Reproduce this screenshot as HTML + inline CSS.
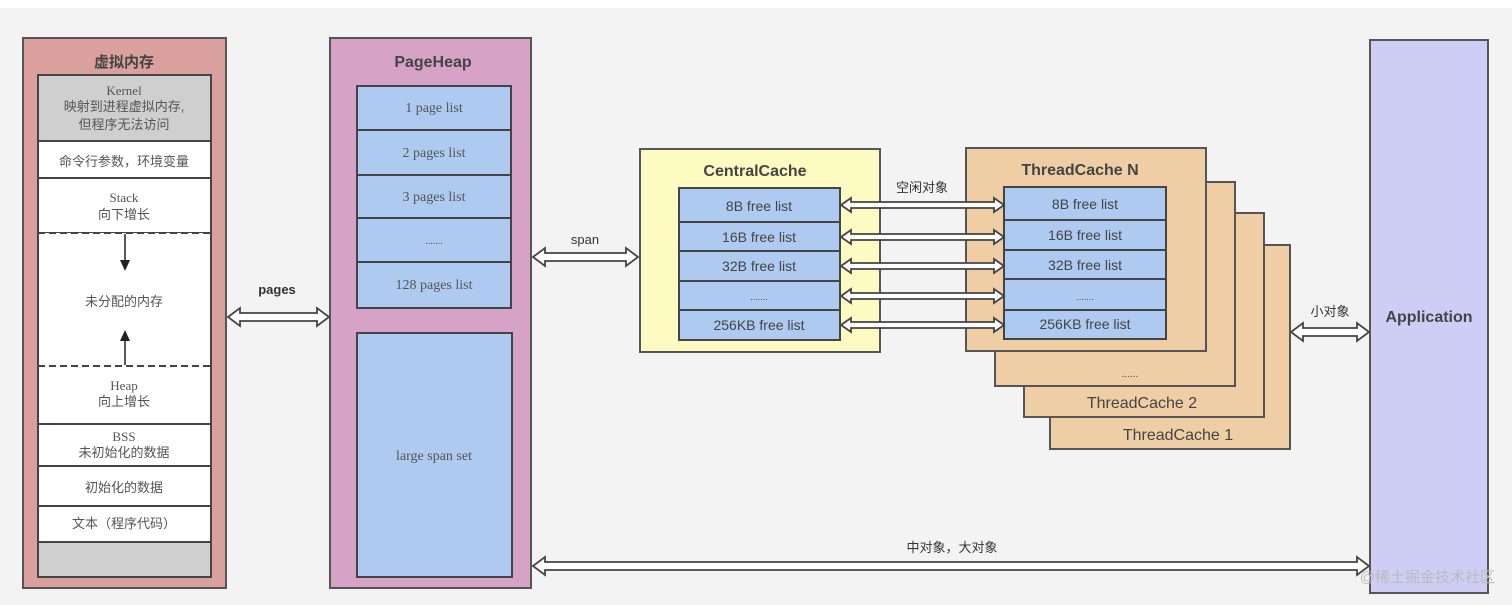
<!DOCTYPE html>
<html><head><meta charset="utf-8"><style>
html,body{margin:0;padding:0;background:#f3f3f3;}
svg{display:block}
.s{font-family:"Liberation Sans","Noto Sans CJK SC",sans-serif;}
.r{font-family:"Liberation Serif","Noto Sans CJK SC",serif;}
</style></head><body>
<svg width="1512" height="605" viewBox="0 0 1512 605" xmlns="http://www.w3.org/2000/svg">
<rect x="0" y="0" width="1512" height="8" fill="#ffffff"/>
<rect x="0" y="8" width="1512" height="597" fill="#f3f3f3"/>

<!-- 虚拟内存 -->
<rect x="23" y="38" width="203" height="550" fill="#d9a09d" stroke="#555" stroke-width="2"/>
<text x="124" y="67" text-anchor="middle" class="s" font-size="15" font-weight="bold" fill="#444">虚拟内存</text>
<g stroke="#444" stroke-width="2">
<rect x="38" y="75" width="173" height="66" fill="#cfcfcf"/>
<rect x="38" y="141" width="173" height="37" fill="#fff"/>
<rect x="38" y="178" width="173" height="55" fill="#fff"/>
<rect x="38" y="233" width="173" height="133" fill="#fff" stroke="none"/>
<line x1="38" y1="233" x2="38" y2="366"/><line x1="211" y1="233" x2="211" y2="366"/>
<rect x="38" y="366" width="173" height="58" fill="#fff" stroke="none"/>
<line x1="38" y1="366" x2="38" y2="424"/><line x1="211" y1="366" x2="211" y2="424"/>
<rect x="38" y="424" width="173" height="42" fill="#fff"/>
<rect x="38" y="466" width="173" height="40" fill="#fff"/>
<rect x="38" y="506" width="173" height="36" fill="#fff"/>
<rect x="38" y="542" width="173" height="35" fill="#cfcfcf"/>
</g>
<line x1="38" y1="233" x2="211" y2="233" stroke="#444" stroke-width="2" stroke-dasharray="7,4"/>
<line x1="38" y1="366" x2="211" y2="366" stroke="#444" stroke-width="2" stroke-dasharray="7,4"/>
<line x1="125" y1="234" x2="125" y2="262" stroke="#222" stroke-width="1.5"/>
<polygon points="120,260 130,260 125,271" fill="#222"/>
<line x1="125" y1="340" x2="125" y2="365" stroke="#222" stroke-width="1.5"/>
<polygon points="120,341 130,341 125,330" fill="#222"/>
<g fill="#555" font-size="13" text-anchor="middle">
<text x="124" y="95" class="r">Kernel</text>
<text x="124" y="111" class="s">映射到进程虚拟内存,</text>
<text x="124" y="129" class="s">但程序无法访问</text>
<text x="124" y="166" class="s">命令行参数，环境变量</text>
<text x="124" y="202" class="r">Stack</text>
<text x="124" y="219" class="s">向下增长</text>
<text x="124" y="306" class="s">未分配的内存</text>
<text x="124" y="390" class="r">Heap</text>
<text x="124" y="406" class="s">向上增长</text>
<text x="124" y="441" class="r">BSS</text>
<text x="124" y="457" class="s">未初始化的数据</text>
<text x="124" y="492" class="s">初始化的数据</text>
<text x="124" y="528" class="s">文本（程序代码）</text>
</g>

<!-- PageHeap -->
<rect x="330" y="38" width="201" height="550" fill="#d6a3c7" stroke="#555" stroke-width="2"/>
<text x="433" y="67" text-anchor="middle" class="s" font-size="16" font-weight="bold" fill="#444">PageHeap</text>
<g stroke="#444" stroke-width="2" fill="#aecaf1">
<rect x="357" y="86" width="154" height="44"/>
<rect x="357" y="130" width="154" height="45"/>
<rect x="357" y="175" width="154" height="43"/>
<rect x="357" y="218" width="154" height="44"/>
<rect x="357" y="262" width="154" height="46"/>
<rect x="357" y="333" width="155" height="244"/>
</g>
<g fill="#555" font-size="14" text-anchor="middle" class="r">
<text x="434" y="112">1 page list</text>
<text x="434" y="157">2 pages list</text>
<text x="434" y="201">3 pages list</text>
<text x="434" y="244" font-size="10">.......</text>
<text x="434" y="289">128 pages list</text>
<text x="434" y="460">large span set</text>
</g>

<!-- CentralCache -->
<rect x="640" y="149" width="240" height="203" fill="#fefbc2" stroke="#555" stroke-width="2"/>
<text x="755" y="176" text-anchor="middle" class="s" font-size="16" font-weight="bold" fill="#444">CentralCache</text>
<g stroke="#444" stroke-width="2" fill="#aecaf1">
<rect x="679" y="188" width="161" height="34"/>
<rect x="679" y="222" width="161" height="29"/>
<rect x="679" y="251" width="161" height="30"/>
<rect x="679" y="281" width="161" height="29"/>
<rect x="679" y="310" width="161" height="30"/>
</g>
<g fill="#444" font-size="14" text-anchor="middle" class="s">
<text x="759" y="211">8B free list</text>
<text x="759" y="242">16B free list</text>
<text x="759" y="271">32B free list</text>
<text x="759" y="300" font-size="9">.......</text>
<text x="759" y="330">256KB free list</text>
</g>

<!-- ThreadCaches -->
<g stroke="#555" stroke-width="2" fill="#efcea6">
<rect x="1050" y="245" width="240" height="204"/>
<rect x="1024" y="213" width="240" height="204"/>
<rect x="995" y="182" width="240" height="204"/>
<rect x="966" y="148" width="240" height="203"/>
</g>
<g fill="#444" class="s" text-anchor="middle">
<text x="1080" y="175" font-size="16" font-weight="bold">ThreadCache N</text>
<text x="1130" y="377" font-size="10">......</text>
<text x="1142" y="408" font-size="16">ThreadCache 2</text>
<text x="1178" y="440" font-size="16">ThreadCache 1</text>
</g>
<g stroke="#444" stroke-width="2" fill="#aecaf1">
<rect x="1004" y="187" width="162" height="33"/>
<rect x="1004" y="220" width="162" height="30"/>
<rect x="1004" y="250" width="162" height="29"/>
<rect x="1004" y="279" width="162" height="31"/>
<rect x="1004" y="310" width="162" height="29"/>
</g>
<g fill="#444" font-size="14" text-anchor="middle" class="s">
<text x="1085" y="209">8B free list</text>
<text x="1085" y="240">16B free list</text>
<text x="1085" y="270">32B free list</text>
<text x="1085" y="300" font-size="9">.......</text>
<text x="1085" y="329">256KB free list</text>
</g>

<!-- Application -->
<rect x="1370" y="40" width="118" height="553" fill="#cdcdf6" stroke="#555" stroke-width="2"/>
<text x="1429" y="322" text-anchor="middle" class="s" font-size="16" font-weight="bold" fill="#444">Application</text>

<!-- arrows -->
<g fill="#fff" stroke="#444" stroke-width="1.8" stroke-linejoin="miter">
<polygon points="228,317 240,308 240,313 317,313 317,308 329,317 317,326 317,321 240,321 240,326"/>
<polygon points="533,257 545,248 545,253 626,253 626,248 638,257 626,266 626,261 545,261 545,266"/>
<polygon points="1291,332 1303,323 1303,328 1357,328 1357,323 1369,332 1357,341 1357,336 1303,336 1303,341"/>
<polygon points="533,566 545,557 545,562 1357,562 1357,557 1369,566 1357,575 1357,570 545,570 545,575"/>
<polygon points="841,205 851,198 851,202 994,202 994,198 1004,205 994,212 994,208 851,208 851,212"/>
<polygon points="841,237 851,230 851,234 994,234 994,230 1004,237 994,244 994,240 851,240 851,244"/>
<polygon points="841,266 851,259 851,263 994,263 994,259 1004,266 994,273 994,269 851,269 851,273"/>
<polygon points="841,296 851,289 851,293 994,293 994,289 1004,296 994,303 994,299 851,299 851,303"/>
<polygon points="841,325 851,318 851,322 994,322 994,318 1004,325 994,332 994,328 851,328 851,332"/>
</g>
<g fill="#333" class="s" font-size="13" text-anchor="middle">
<text x="277" y="294" font-weight="bold">pages</text>
<text x="585" y="244">span</text>
<text x="922" y="192">空闲对象</text>
<text x="1330" y="316">小对象</text>
<text x="952" y="552">中对象，大对象</text>
</g>
<text x="1495" y="582" text-anchor="end" class="s" font-size="15" fill="#bbb">@稀土掘金技术社区</text>
</svg>
</body></html>
